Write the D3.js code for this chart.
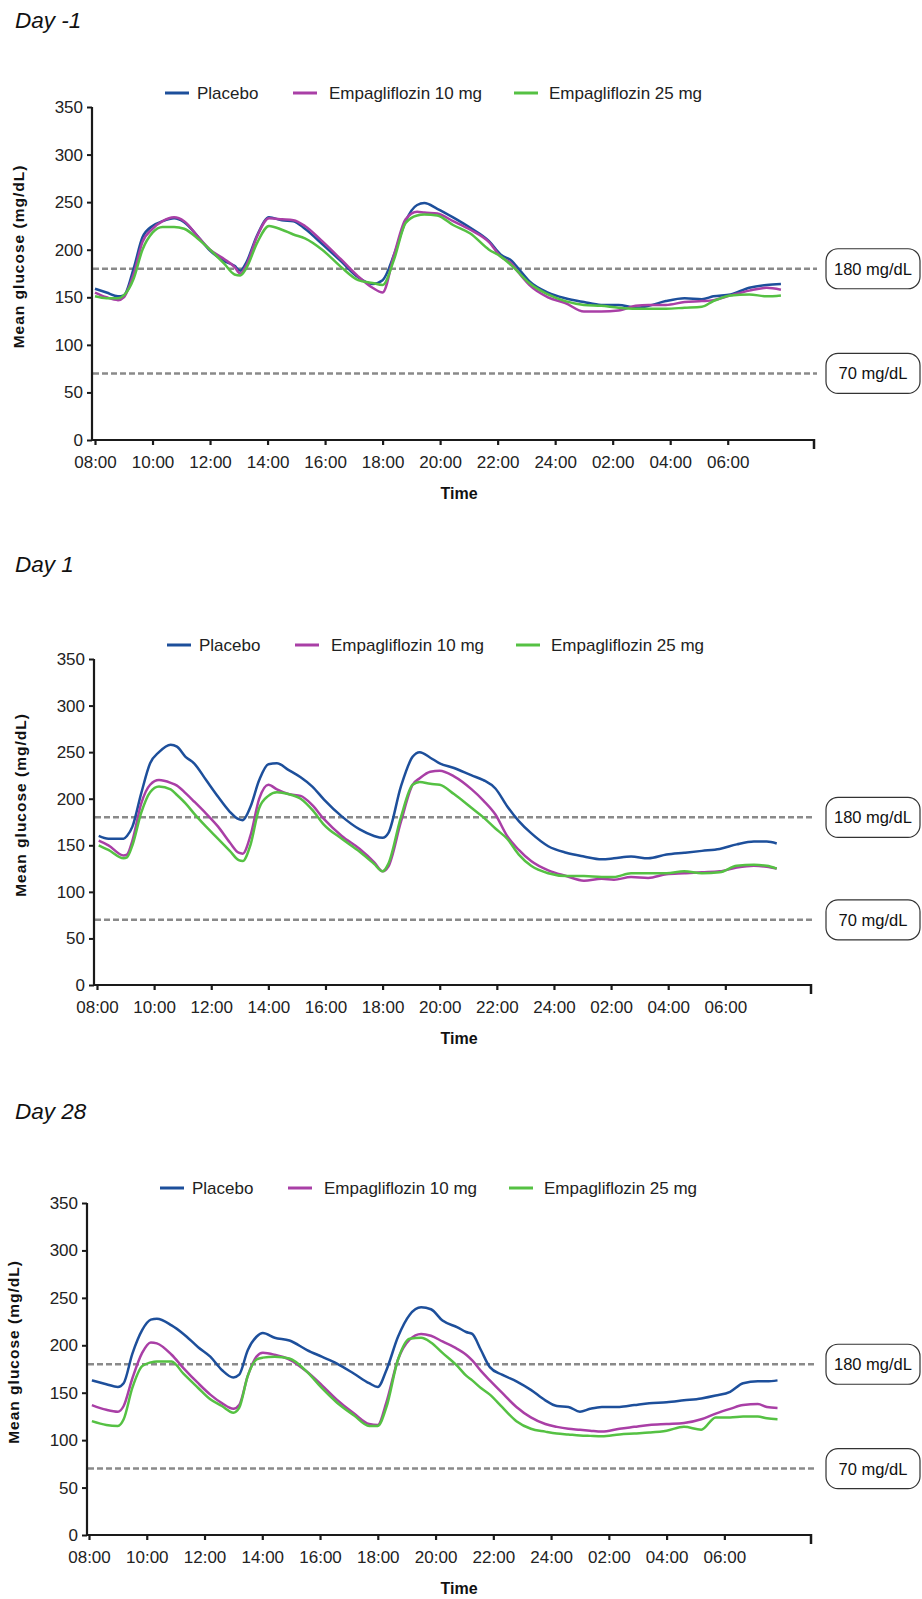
<!DOCTYPE html>
<html>
<head>
<meta charset="utf-8">
<script src="https://cdn.jsdelivr.net/npm/d3@7"></script>
<style>
    body { margin: 0; background: #fff; }
    svg { display: block; font-family: "Liberation Sans", Arial, sans-serif; }
</style>
</head>
<body>
<svg id="chart"></svg>
<script>
// Shared chart data
const seriesNames = ["Placebo", "Empagliflozin 10 mg", "Empagliflozin 25 mg"];
const seriesColors = ["#1d4f9b", "#a93fa6", "#55c143"];
const tickHours = [0, 2, 4, 6, 8, 10, 12, 14, 16, 18, 20, 22];
const tickLabels = ["08:00", "10:00", "12:00", "14:00", "16:00", "18:00", "20:00", "22:00", "24:00", "02:00", "04:00", "06:00"];
const yTicks = [0, 50, 100, 150, 200, 250, 300, 350];
const thresholds = [180, 70];
const thresholdLabels = ["180 mg/dL", "70 mg/dL"];

// Day -1 (hours after 08:00)
const hoursDayM1 = [0, 0.4, 0.8, 1.0, 1.35, 1.65, 2.0, 2.35, 2.75, 3.1, 3.6, 4.0, 4.5, 4.85, 5.05, 5.25, 5.65, 6.05, 6.5, 6.9,
    7.3, 7.9, 8.55, 9.15, 9.65, 10.0, 10.4, 10.8, 11.2, 11.45, 11.9, 12.45, 13.05, 13.7, 14.1, 14.5, 14.7, 15.1, 15.75, 16.35,
    17.0, 17.6, 18.2, 18.8, 19.25, 19.85, 20.5, 21.1, 21.5, 22.1, 22.75, 23.35, 23.85];
const placeboDayM1 = [159, 155, 151, 152, 181, 213, 225, 230, 233, 229, 213, 199, 188, 183, 178, 186, 216, 234, 231, 230,
    222, 206, 188, 171, 164, 168, 195, 230, 247, 249, 243, 234, 223, 209, 195, 188, 181, 167, 155, 149,
    145, 142, 142, 139, 141, 146, 149, 148, 151, 153, 160, 163, 164];
const emp10DayM1 = [155, 150, 147, 150, 175, 208, 222, 230, 234, 230, 213, 200, 190, 182, 175, 183, 215, 233, 232, 231,
    225, 209, 190, 172, 160, 155, 195, 232, 240, 239, 238, 230, 221, 208, 193, 185, 177, 163, 150, 144,
    135, 135, 136, 141, 142, 142, 145, 146, 147, 152, 157, 160, 158];
const emp25DayM1 = [151, 149, 149, 152, 170, 200, 218, 224, 224, 222, 211, 200, 185, 174, 173, 180, 208, 225, 221, 216,
    212, 200, 182, 168, 165, 163, 190, 228, 236, 237, 236, 226, 217, 200, 193, 183, 177, 165, 153, 146,
    142, 141, 139, 138, 138, 138, 139, 140, 146, 152, 153, 151, 152];

// Day 1
const hoursDay1 = [0.06, 0.4, 0.93, 1.05, 1.24, 1.55, 1.86, 2.17, 2.58, 2.8, 3.1, 3.4, 3.82, 4.24, 4.65, 4.96, 5.1, 5.37, 5.68, 6.0,
    6.3, 6.7, 7.13, 7.54, 7.95, 8.57, 9.2, 9.7, 10.0, 10.2, 10.64, 11.05, 11.3, 11.67, 12.0, 12.5, 13.12, 13.53, 13.95, 14.36,
    14.77, 15.2, 15.8, 16.43, 17.05, 17.67, 18.1, 18.7, 19.3, 19.94, 20.56, 21.18, 21.8, 22.4, 23.0, 23.45, 23.8];
const placeboDay1 = [160, 157, 157, 160, 170, 206, 238, 250, 258, 256, 245, 238, 220, 202, 186, 178, 177, 191, 220, 237,
    238, 231, 223, 213, 199, 181, 167, 160, 158, 163, 213, 245, 250, 244, 238, 233, 225, 220, 211, 192,
    176, 163, 149, 142, 138, 135, 136, 138, 136, 140, 142, 144, 146, 151, 154, 154, 152];
const emp10Day1 = [155, 150, 139, 140, 155, 195, 215, 220, 217, 214, 206, 197, 184, 170, 153, 142, 141, 160, 200, 215,
    210, 205, 203, 193, 178, 160, 146, 132, 122, 127, 175, 215, 222, 229, 230, 224, 210, 198, 183, 160,
    145, 133, 123, 117, 112, 114, 113, 116, 115, 119, 120, 121, 122, 126, 128, 127, 125];
const emp25Day1 = [150, 145, 136, 137, 150, 185, 207, 213, 210, 204, 195, 184, 170, 157, 144, 134, 133, 150, 190, 203,
    207, 205, 200, 188, 172, 157, 143, 130, 122, 130, 180, 215, 218, 216, 215, 205, 190, 180, 168, 157,
    140, 128, 120, 117, 117, 116, 116, 120, 120, 120, 122, 120, 121, 128, 129, 128, 125];

// Day 28
const hoursDay28 = [0.1, 0.6, 1.0, 1.2, 1.5, 1.84, 2.14, 2.35, 2.86, 3.27, 3.78, 4.2, 4.6, 5.0, 5.2, 5.5, 5.8, 6.02, 6.43, 6.94,
    7.55, 8.06, 8.57, 9.18, 9.7, 10.0, 10.3, 10.7, 11.1, 11.5, 11.84, 12.24, 12.76, 13.06, 13.27, 13.57, 13.88, 14.3, 14.8, 15.3,
    15.8, 16.2, 16.6, 17.0, 17.35, 17.76, 18.37, 18.88, 19.4, 20.0, 20.6, 21.2, 21.7, 22.2, 22.65, 23.16, 23.47, 23.84];
const placeboDay28 = [163, 159, 156, 160, 191, 216, 227, 228, 221, 212, 198, 188, 174, 166, 169, 195, 209, 213, 208, 205,
    195, 188, 181, 170, 160, 156, 174, 209, 232, 240, 238, 226, 219, 214, 212, 195, 177, 169, 162, 153,
    142, 136, 135, 130, 133, 135, 135, 137, 139, 140, 142, 144, 147, 151, 160, 162, 162, 163];
const emp10Day28 = [137, 132, 130, 136, 165, 192, 203, 202, 190, 176, 160, 148, 139, 133, 137, 168, 188, 192, 190, 185,
    172, 158, 143, 128, 117, 116, 140, 185, 206, 212, 210, 204, 196, 190, 184, 173, 163, 150, 135, 124,
    117, 114, 112, 111, 110, 109, 112, 114, 116, 117, 118, 122, 128, 133, 137, 138, 135, 134];
const emp25Day28 = [120, 116, 115, 122, 155, 178, 182, 183, 183, 170, 155, 143, 136, 129, 134, 168, 185, 187, 188, 186,
    172, 155, 140, 126, 115, 115, 135, 185, 207, 208, 203, 192, 178, 168, 163, 155, 148, 135, 120, 112,
    109, 107, 106, 105, 104.5, 104, 106, 107, 108, 110, 114, 111, 124, 124, 125, 125, 123, 122];

// Panel layout (pixel positions only)
const panels = [
    {title: "Day -1", hours: hoursDayM1, series: [placeboDayM1, emp10DayM1, emp25DayM1],
        axisX: 92, x0: 95, x1: 814, yTop: 107, yBottom: 440, titleY: 28, legendY: 93},
    {title: "Day 1", hours: hoursDay1, series: [placeboDay1, emp10Day1, emp25Day1],
        axisX: 94, x0: 97, x1: 811, yTop: 659, yBottom: 985, titleY: 572, legendY: 645},
    {title: "Day 28", hours: hoursDay28, series: [placeboDay28, emp10Day28, emp25Day28],
        axisX: 87, x0: 89, x1: 811, yTop: 1203, yBottom: 1535, titleY: 1119, legendY: 1188}
];

const width = 922;
const height = 1599;
const svg = d3.select("#chart").attr("width", width).attr("height", height);

// Legend offsets relative to the y axis: [line start, text start]
const legendOffsets = [[73, 105], [201, 237], [422, 457]];

panels.forEach(function (p) {
    const g = svg.append("g");

    const x = d3.scaleLinear().domain([0, 25]).range([p.x0, p.x1]);
    const y = d3.scaleLinear().domain([0, 350]).range([p.yBottom, p.yTop]);

    // Title
    g.append("text")
        .attr("x", 15)
        .attr("y", p.titleY)
        .attr("font-size", 22.5)
        .attr("font-style", "italic")
        .attr("fill", "#111")
        .text(p.title);

    // Threshold lines and boxed labels
    thresholds.forEach(function (t, i) {
        g.append("line")
            .attr("x1", p.axisX + 1)
            .attr("x2", p.x1 + 3)
            .attr("y1", y(t))
            .attr("y2", y(t))
            .attr("stroke", "#8a8a8a")
            .attr("stroke-width", 2.5)
            .attr("stroke-dasharray", "6,3");

        g.append("rect")
            .attr("x", 826)
            .attr("y", y(t) - 20)
            .attr("width", 94)
            .attr("height", 40)
            .attr("rx", 12)
            .attr("fill", "#fff")
            .attr("stroke", "#333")
            .attr("stroke-width", 1.2);

        g.append("text")
            .attr("x", 873)
            .attr("y", y(t) + 6)
            .attr("text-anchor", "middle")
            .attr("font-size", 16.5)
            .attr("fill", "#111")
            .text(thresholdLabels[i]);
    });

    // Data lines
    const line = d3.line()
        .x(function (d) { return x(d[0]); })
        .y(function (d) { return y(d[1]); })
        .curve(d3.curveMonotoneX);

    p.series.forEach(function (values, i) {
        const pts = p.hours.map(function (h, j) { return [h, values[j]]; });
        g.append("path")
            .datum(pts)
            .attr("d", line)
            .attr("fill", "none")
            .attr("stroke", seriesColors[i])
            .attr("stroke-width", 2.5)
            .attr("stroke-linejoin", "round");
    });

    // Y axis
    const yAxis = d3.axisLeft(y).tickValues(yTicks).tickSize(5).tickPadding(4);
    const yg = g.append("g")
        .attr("transform", "translate(" + p.axisX + ",0)")
        .call(yAxis);
    yg.select(".domain").attr("stroke", "#1a1a1a").attr("stroke-width", 2.2).attr("d", "M0," + p.yTop + "V" + p.yBottom);
    yg.selectAll(".tick line").attr("stroke", "#1a1a1a").attr("stroke-width", 2);
    yg.selectAll(".tick text").attr("font-size", 17).attr("fill", "#222")
        .attr("font-family", "'Liberation Sans', Arial, sans-serif");

    // X axis
    const xAxis = d3.axisBottom(x).tickValues(tickHours)
        .tickFormat(function (d, i) { return tickLabels[i]; })
        .tickSize(5).tickPadding(11);
    const xg = g.append("g")
        .attr("transform", "translate(0," + p.yBottom + ")")
        .call(xAxis);
    xg.select(".domain").attr("stroke", "#1a1a1a").attr("stroke-width", 2.2).attr("d", "M" + p.axisX + ",0H" + p.x1);
    xg.selectAll(".tick line").attr("stroke", "#1a1a1a").attr("stroke-width", 2.2);
    xg.selectAll(".tick text").attr("font-size", 17).attr("fill", "#222")
        .attr("font-family", "'Liberation Sans', Arial, sans-serif");

    // End tick of the time axis
    xg.append("line")
        .attr("x1", p.x1)
        .attr("x2", p.x1)
        .attr("y1", -1)
        .attr("y2", 9)
        .attr("stroke", "#1a1a1a")
        .attr("stroke-width", 2.5);

    // Axis titles
    g.append("text")
        .attr("x", 459)
        .attr("y", p.yBottom + 59)
        .attr("text-anchor", "middle")
        .attr("font-size", 16)
        .attr("font-weight", "bold")
        .attr("fill", "#111")
        .text("Time");

    g.append("text")
        .attr("transform", "translate(" + (p.axisX - 68) + "," + ((p.yTop + p.yBottom) / 2 - 17) + ") rotate(-90)")
        .attr("text-anchor", "middle")
        .attr("font-size", 15.5)
        .attr("font-weight", "bold")
        .attr("letter-spacing", 1)
        .attr("fill", "#111")
        .text("Mean glucose (mg/dL)");

    // Legend
    seriesNames.forEach(function (name, i) {
        g.append("line")
            .attr("x1", p.axisX + legendOffsets[i][0])
            .attr("x2", p.axisX + legendOffsets[i][0] + 24)
            .attr("y1", p.legendY)
            .attr("y2", p.legendY)
            .attr("stroke", seriesColors[i])
            .attr("stroke-width", 3);
        g.append("text")
            .attr("x", p.axisX + legendOffsets[i][1])
            .attr("y", p.legendY + 6)
            .attr("font-size", 17)
            .attr("fill", "#222")
            .text(name);
    });
});
</script>
</body>
</html>
